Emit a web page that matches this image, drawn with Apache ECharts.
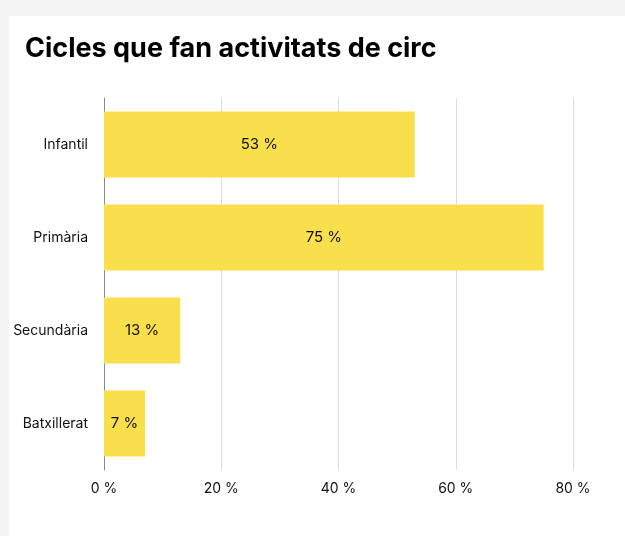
<!DOCTYPE html>
<html>
<head>
<meta charset="utf-8">
<script src="https://cdn.jsdelivr.net/npm/echarts@6/dist/echarts.min.js"></script>
<style>
	html, body { margin: 0; padding: 0; background: #f4f4f4; }
	#main { position: absolute; left: 9px; top: 16px; width: 616px; height: 520px; background: #fff; }
</style>
</head>
<body>
<div id="main"></div>
<script>
	var categories = ['Infantil', 'Primària', 'Secundària', 'Batxillerat'];
	var values = [53, 75, 13, 7];
	var xTicks = [0, 20, 40, 60, 80];

	var chart = echarts.init(document.getElementById('main'));
	var option = {
		animation: false,
		textStyle: { fontFamily: 'Inter' },
		title: {
			text: 'Cicles que fan activitats de circ',
			left: 11,
			top: 14,
			textStyle: { fontFamily: 'Inter', fontSize: 27, fontWeight: 'bold', color: '#000' }
		},
		grid: { left: 95, right: 52, top: 82, bottom: 66, containLabel: false },
		xAxis: {
			type: 'value',
			min: xTicks[0],
			max: xTicks[xTicks.length - 1],
			interval: xTicks[1] - xTicks[0],
			axisLine: { show: false },
			axisTick: { show: false },
			splitLine: { lineStyle: { color: '#dcdcdc', width: 1 } },
			axisLabel: { formatter: '{value} %', color: '#111', fontSize: 14, margin: 12 }
		},
		yAxis: {
			type: 'category',
			data: categories,
			inverse: true,
			axisLine: { lineStyle: { color: '#8a8a8a', width: 1 } },
			axisTick: { show: false },
			axisLabel: { color: '#111', fontSize: 14, margin: 16 }
		},
		series: [{
			type: 'bar',
			data: values,
			barCategoryGap: '29%',
			itemStyle: { color: '#fadf4c' },
			label: {
				show: true,
				position: 'inside',
				formatter: '{c} %',
				color: '#111',
				fontSize: 15
			}
		}]
	};
	chart.setOption(option);
	window.addEventListener('resize', function () {
		chart.resize();
	});
</script>
</body>
</html>
